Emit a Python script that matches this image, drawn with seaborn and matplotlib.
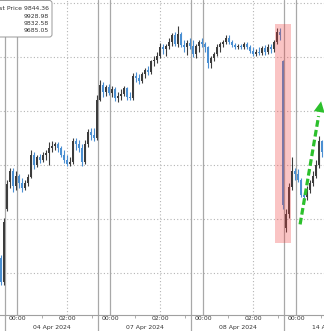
import numpy as np
import pandas as pd
import matplotlib
matplotlib.use("Agg")
import matplotlib.pyplot as plt
from matplotlib.patches import FancyBboxPatch, Rectangle
import seaborn as sns

# ---------------- data ----------------
opens = [9714, 9692, 9759, 9784, 9794, 9781, 9790, 9783, 9779, 9783,
         9789, 9809, 9800, 9807, 9805, 9809, 9811, 9816, 9818, 9819,
         9816, 9809, 9805, 9801, 9803, 9822, 9819, 9816, 9803, 9819,
         9831, 9828, 9825, 9860, 9874, 9868, 9872, 9867, 9870, 9862,
         9864, 9866, 9871, 9863, 9862, 9882, 9881, 9878, 9884, 9888,
         9886, 9896, 9897, 9901, 9909, 9907, 9910, 9914, 9920, 9912,
         9921, 9911, 9909, 9913, 9910, 9903, 9910, 9914, 9912, 9909,
         9894, 9899, 9903, 9909, 9912, 9914, 9918, 9914, 9911, 9909,
         9910, 9909, 9912, 9909, 9906, 9903, 9905, 9904, 9908, 9905,
         9909, 9907, 9914, 9923, 9896, 9742, 9755, 9780, 9794, 9792,
         9786, 9772, 9770, 9777, 9783, 9790, 9800, 9822]
highs = [9717, 9751, 9786, 9797, 9797, 9794, 9792, 9788, 9786, 9792,
         9814, 9812, 9809, 9810, 9812, 9814, 9821, 9822, 9821, 9821,
         9818, 9814, 9809, 9807, 9825, 9825, 9823, 9819, 9823, 9833,
         9834, 9834, 9865, 9879, 9877, 9874, 9875, 9873, 9872, 9868,
         9870, 9873, 9872, 9868, 9885, 9886, 9884, 9886, 9890, 9892,
         9897, 9901, 9905, 9913, 9912, 9912, 9918, 9922, 9923, 9929,
         9923, 9916, 9916, 9918, 9916, 9912, 9916, 9918, 9914, 9910,
         9901, 9905, 9912, 9914, 9916, 9920, 9920, 9916, 9913, 9912,
         9912, 9914, 9914, 9911, 9909, 9907, 9909, 9910, 9911, 9912,
         9912, 9916, 9927, 9927, 9897, 9759, 9783, 9807, 9797, 9796,
         9788, 9775, 9781, 9786, 9794, 9805, 9827, 9823]
lows = [9689, 9689, 9757, 9779, 9775, 9777, 9779, 9775, 9777, 9781,
        9788, 9796, 9798, 9802, 9803, 9805, 9800, 9812, 9814, 9812,
        9807, 9802, 9799, 9799, 9801, 9814, 9812, 9799, 9801, 9817,
        9823, 9822, 9823, 9859, 9863, 9864, 9865, 9863, 9859, 9858,
        9860, 9864, 9860, 9860, 9860, 9877, 9875, 9876, 9881, 9883,
        9884, 9892, 9894, 9899, 9903, 9901, 9907, 9910, 9910, 9909,
        9909, 9905, 9902, 9907, 9900, 9899, 9905, 9909, 9905, 9890,
        9890, 9896, 9901, 9905, 9909, 9912, 9912, 9909, 9907, 9907,
        9907, 9907, 9907, 9904, 9901, 9901, 9902, 9902, 9902, 9903,
        9904, 9905, 9912, 9916, 9759, 9738, 9751, 9777, 9786, 9784,
        9770, 9765, 9768, 9774, 9781, 9788, 9797, 9807]
closes = [9692, 9747, 9782, 9794, 9781, 9790, 9783, 9779, 9783, 9789,
          9809, 9800, 9807, 9805, 9809, 9811, 9816, 9818, 9819, 9816,
          9809, 9805, 9801, 9803, 9822, 9819, 9816, 9803, 9819, 9831,
          9828, 9825, 9860, 9874, 9868, 9872, 9867, 9870, 9862, 9864,
          9866, 9871, 9863, 9862, 9882, 9881, 9878, 9884, 9888, 9886,
          9896, 9897, 9901, 9909, 9907, 9910, 9914, 9920, 9912, 9921,
          9911, 9909, 9913, 9910, 9903, 9910, 9914, 9912, 9909, 9894,
          9899, 9903, 9909, 9912, 9914, 9918, 9914, 9911, 9909, 9910,
          9909, 9912, 9909, 9906, 9903, 9905, 9904, 9908, 9905, 9909,
          9907, 9914, 9923, 9920, 9763, 9755, 9780, 9794, 9792, 9786,
          9772, 9770, 9777, 9783, 9790, 9800, 9822, 9812]

day_labels = ["04 Apr 2024", "07 Apr 2024", "08 Apr 2024", "14 Apr 2024"]
time_labels = ["00:00", "02:00"]
legend_lines = ["Last Price 9844.36", "9928.98", "9832.58", "9685.05"]
grid_levels = [9700, 9750, 9800, 9850, 9900, 9950]

# highlighted crash window (bar index range, price range)
highlight_x = [91.33, 96.67]
highlight_y = [9728, 9931]
# recovery arrow (bar index, price)
arrow_start = [99.7, 9745]
arrow_end = [106.7, 9859]

df = pd.DataFrame({"open": opens, "high": highs, "low": lows, "close": closes})
df["idx"] = np.arange(len(df))
df["up"] = df["close"] >= df["open"]

# ---------------- figure ----------------
sns.set_theme(style="white")
plt.rcParams["font.family"] = ["DejaVu Sans"]

W, H = 324, 331
XL = (-0.333, 107.667)
fig = plt.figure(figsize=(W / 100, H / 100), dpi=100)
ax = fig.add_axes([0, 16 / H, 1, 315 / H])

# segment layout (bar-index units: 31 bars per session, 8.333 bars per hour)
seg_len = 31
sep0 = 1.333
mid_off = 4.0          # 00:00 after separator
hr = 8.3333
seps = [sep0 + k * seg_len for k in range(4)]
midn = [s + mid_off for s in seps]
two = [m + 2 * hr for m in midn[:3]]

# horizontal dotted grid
for g in grid_levels:
    ax.axhline(g, color="#b4b4b4", lw=0.8, ls=(0, (1, 2)), zorder=1)
# vertical lines
for t in two:
    ax.axvline(t, color="#b4b4b4", lw=0.8, ls=(0, (1, 2)), zorder=1)
for m in midn:
    ax.axvline(m, color="#a8a8a8", lw=0.9, zorder=1)
for s in seps:
    ax.plot([s, s], [-16 / 315, 1], transform=ax.get_xaxis_transform(),
            color="#a8a8a8", lw=0.9, zorder=1, clip_on=False)

# candles
up_col, dn_col = "#3c3c3c", "#4a8fd2"
cols = np.where(df["up"], up_col, dn_col)
ax.vlines(df["idx"], df["low"], df["high"], colors=cols, lw=0.8, zorder=3)
body_b = np.minimum(df["open"], df["close"])
body_h = np.maximum(np.abs(df["close"] - df["open"]), 0.8)
ax.bar(df["idx"], body_h, bottom=body_b, width=0.62, color=cols,
       linewidth=0, zorder=3)

# highlight box
ax.add_patch(Rectangle((highlight_x[0], highlight_y[0]),
                       highlight_x[1] - highlight_x[0],
                       highlight_y[1] - highlight_y[0],
                       facecolor=(0.94, 0.24, 0.24), alpha=0.3,
                       edgecolor="none", zorder=4))

# green dashed arrow
green = "#2cc02c"
fx = arrow_start[0] + 0.88 * (arrow_end[0] - arrow_start[0])
fy = arrow_start[1] + 0.88 * (arrow_end[1] - arrow_start[1])
ax.plot([arrow_start[0], fx], [arrow_start[1], fy], color=green, lw=2.3,
        dashes=(2.1, 1.0), solid_capstyle="butt", dash_capstyle="butt",
        zorder=5)
ax.annotate("", xy=(arrow_end[0], arrow_end[1]), xytext=(fx, fy),
            arrowprops=dict(arrowstyle="-|>,head_length=1.3,head_width=0.65",
                            color=green, lw=0, mutation_scale=6,
                            shrinkA=0, shrinkB=0), zorder=6)

# axes styling
for sp in ["top", "left", "right"]:
    ax.spines[sp].set_visible(False)
ax.spines["bottom"].set_color("#a0a0a0")
ax.spines["bottom"].set_linewidth(0.8)
ax.set_yticks([])
tick_pos = []
tick_lab = []
for k, m in enumerate(midn):
    tick_pos.append(m)
    tick_lab.append(time_labels[0])
    if k < 3:
        tick_pos.append(m + 2 * hr)
        tick_lab.append(time_labels[1])
ax.set_xticks(tick_pos)
ax.set_xticklabels(tick_lab, fontsize=4.4, color="#333333")
minor = []
for m in midn:
    minor += [m + hr, m + 3 * hr]
minor = [v for v in minor if XL[0] <= v <= XL[1]]
ax.set_xticks(minor, minor=True)
ax.tick_params(axis="x", which="major", length=0, pad=0.6)
ax.tick_params(axis="x", which="minor", length=2, color="#a0a0a0", width=0.6,
               bottom=True)
ax.set_xlim(*XL)
ax.set_ylim(9661.1, 9952.8)

# day labels centred on sessions
for s, lab in zip(seps, day_labels):
    ax.text(s + seg_len / 2, -12 / 315, lab, transform=ax.get_xaxis_transform(),
            ha="center", va="center", fontsize=4.4, color="#333333",
            clip_on=False)

# legend box
fig.add_artist(FancyBboxPatch((-8 / W, 1 - 37 / H), 60 / W, 36.5 / H,
                              boxstyle="round,pad=0,rounding_size=0.008",
                              transform=fig.transFigure, facecolor="white",
                              edgecolor="#9a9a9a", lw=0.7, zorder=10))
for i, (line, yy) in enumerate(zip(legend_lines, [9, 16.5, 23.5, 31])):
    fig.text(49 / W, 1 - yy / H, line, ha="right", va="center",
             fontsize=4.4, color="#333333", zorder=11)

fig.savefig("out.png", dpi=100)
